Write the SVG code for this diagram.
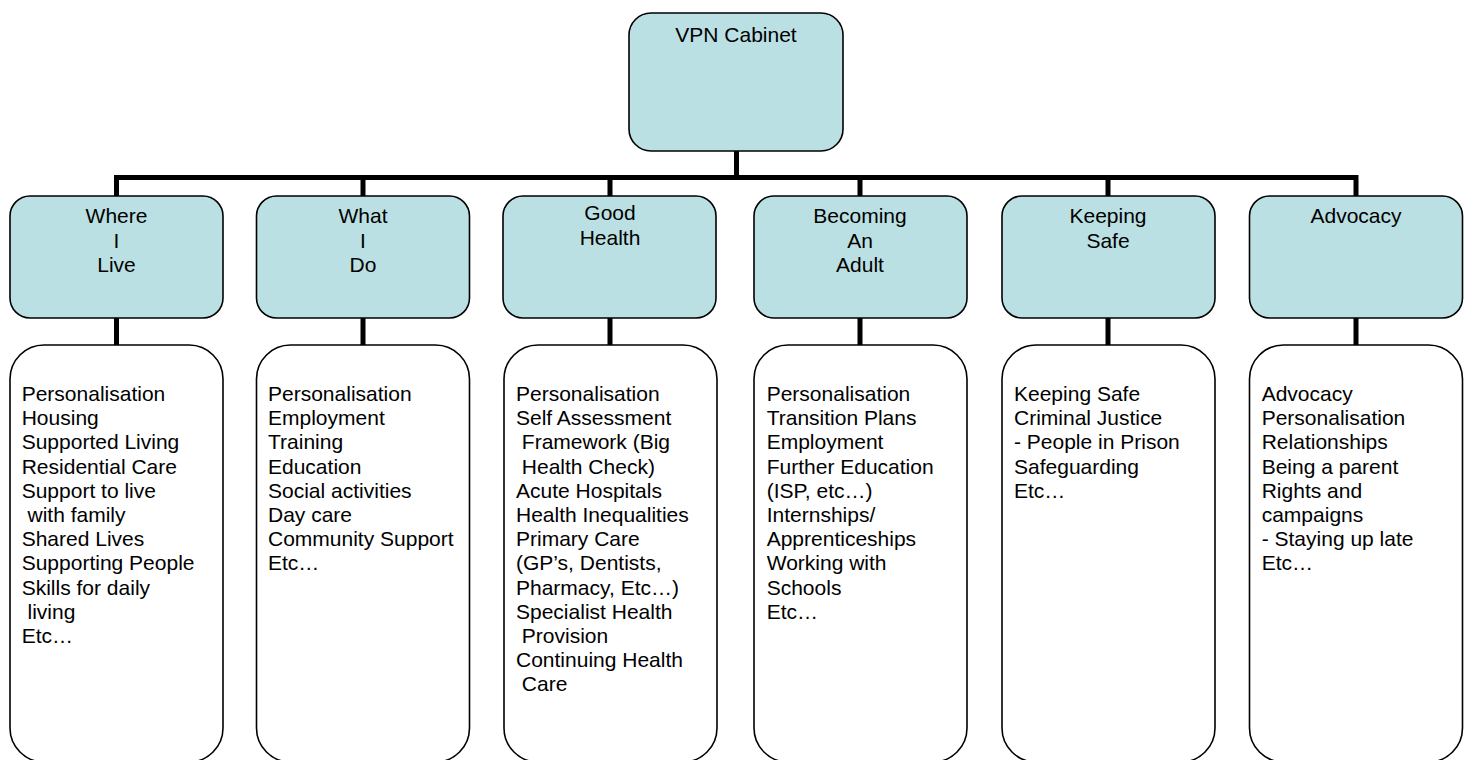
<svg xmlns="http://www.w3.org/2000/svg" width="1471" height="760" viewBox="0 0 1471 760">
<style>
.hd{fill:#BBE0E3;stroke:#000;stroke-width:1.6}
.lst{fill:#fff;stroke:#000;stroke-width:1.6}
text{font-family:"Liberation Sans",Arial,sans-serif;font-size:21px;fill:#000;white-space:pre}
.c{text-anchor:middle}
.conn{fill:none;stroke:#000;stroke-width:5;stroke-linecap:butt;stroke-linejoin:miter}
</style>
<rect width="1471" height="760" fill="#fff"/>
<g id="connectors">
<path class="conn" d="M736.5 151 V177.5 M116.5 196 V177.5 H1356 V196 M363 177.5 V196 M610 177.5 V196 M860 177.5 V196 M1108 177.5 V196"/>
<path class="conn" d="M116.5 318 V345 M363 318 V345 M610 318 V345 M860 318 V345 M1108 318 V345 M1356 318 V345"/>
</g>
<g id="vpn-cabinet">
<rect class="hd" x="629" y="13" width="214" height="138" rx="22"/>
<text class="c" x="736" y="41.7">VPN Cabinet</text>
</g>
<g id="where-i-live">
<rect class="hd" x="10" y="196" width="213" height="122" rx="20"/>
<text class="c" x="116.5" y="223">Where</text>
<text class="c" x="116.5" y="247.5">I</text>
<text class="c" x="116.5" y="272">Live</text>
</g>
<g id="what-i-do">
<rect class="hd" x="256.5" y="196" width="213" height="122" rx="20"/>
<text class="c" x="363" y="223">What</text>
<text class="c" x="363" y="247.5">I</text>
<text class="c" x="363" y="272">Do</text>
</g>
<g id="good-health">
<rect class="hd" x="503" y="196" width="213" height="122" rx="20"/>
<text class="c" x="610" y="220">Good</text>
<text class="c" x="610" y="244.5">Health</text>
</g>
<g id="becoming-an-adult">
<rect class="hd" x="754" y="196" width="213" height="122" rx="20"/>
<text class="c" x="860" y="223">Becoming</text>
<text class="c" x="860" y="247.5">An</text>
<text class="c" x="860" y="272">Adult</text>
</g>
<g id="keeping-safe">
<rect class="hd" x="1002" y="196" width="213" height="122" rx="20"/>
<text class="c" x="1108" y="223">Keeping</text>
<text class="c" x="1108" y="247.5">Safe</text>
</g>
<g id="advocacy">
<rect class="hd" x="1249.5" y="196" width="213" height="122" rx="20"/>
<text class="c" x="1356" y="223">Advocacy</text>
</g>
<g id="where-i-live-list">
<rect class="lst" x="10" y="345" width="213" height="417" rx="34"/>
<text x="21.7" y="401"><tspan x="21.7">Personalisation</tspan><tspan x="21.7" dy="24.2">Housing</tspan><tspan x="21.7" dy="24.2">Supported Living</tspan><tspan x="21.7" dy="24.2">Residential Care</tspan><tspan x="21.7" dy="24.2">Support to live</tspan><tspan x="21.7" dy="24.2"> with family</tspan><tspan x="21.7" dy="24.2">Shared Lives</tspan><tspan x="21.7" dy="24.2">Supporting People</tspan><tspan x="21.7" dy="24.2">Skills for daily</tspan><tspan x="21.7" dy="24.2"> living</tspan><tspan x="21.7" dy="24.2">Etc…</tspan></text>
</g>
<g id="what-i-do-list">
<rect class="lst" x="256.5" y="345" width="213" height="417" rx="34"/>
<text x="268" y="401"><tspan x="268">Personalisation</tspan><tspan x="268" dy="24.2">Employment</tspan><tspan x="268" dy="24.2">Training</tspan><tspan x="268" dy="24.2">Education</tspan><tspan x="268" dy="24.2">Social activities</tspan><tspan x="268" dy="24.2">Day care</tspan><tspan x="268" dy="24.2">Community Support</tspan><tspan x="268" dy="24.2">Etc…</tspan></text>
</g>
<g id="good-health-list">
<rect class="lst" x="504" y="345" width="213" height="417" rx="34"/>
<text x="516" y="401"><tspan x="516">Personalisation</tspan><tspan x="516" dy="24.2">Self Assessment</tspan><tspan x="516" dy="24.2"> Framework (Big</tspan><tspan x="516" dy="24.2"> Health Check)</tspan><tspan x="516" dy="24.2">Acute Hospitals</tspan><tspan x="516" dy="24.2">Health Inequalities</tspan><tspan x="516" dy="24.2">Primary Care</tspan><tspan x="516" dy="24.2">(GP’s, Dentists,</tspan><tspan x="516" dy="24.2">Pharmacy, Etc…)</tspan><tspan x="516" dy="24.2">Specialist Health</tspan><tspan x="516" dy="24.2"> Provision</tspan><tspan x="516" dy="24.2">Continuing Health</tspan><tspan x="516" dy="24.2"> Care</tspan></text>
</g>
<g id="becoming-an-adult-list">
<rect class="lst" x="754" y="345" width="213" height="417" rx="34"/>
<text x="766.7" y="401"><tspan x="766.7">Personalisation</tspan><tspan x="766.7" dy="24.2">Transition Plans</tspan><tspan x="766.7" dy="24.2">Employment</tspan><tspan x="766.7" dy="24.2">Further Education</tspan><tspan x="766.7" dy="24.2">(ISP, etc…)</tspan><tspan x="766.7" dy="24.2">Internships/</tspan><tspan x="766.7" dy="24.2">Apprenticeships</tspan><tspan x="766.7" dy="24.2">Working with</tspan><tspan x="766.7" dy="24.2">Schools</tspan><tspan x="766.7" dy="24.2">Etc…</tspan></text>
</g>
<g id="keeping-safe-list">
<rect class="lst" x="1002" y="345" width="213" height="417" rx="34"/>
<text x="1014" y="401"><tspan x="1014">Keeping Safe</tspan><tspan x="1014" dy="24.2">Criminal Justice</tspan><tspan x="1014" dy="24.2">- People in Prison</tspan><tspan x="1014" dy="24.2">Safeguarding</tspan><tspan x="1014" dy="24.2">Etc…</tspan></text>
</g>
<g id="advocacy-list">
<rect class="lst" x="1249.5" y="345" width="213" height="417" rx="34"/>
<text x="1261.7" y="401"><tspan x="1261.7">Advocacy</tspan><tspan x="1261.7" dy="24.2">Personalisation</tspan><tspan x="1261.7" dy="24.2">Relationships</tspan><tspan x="1261.7" dy="24.2">Being a parent</tspan><tspan x="1261.7" dy="24.2">Rights and</tspan><tspan x="1261.7" dy="24.2">campaigns</tspan><tspan x="1261.7" dy="24.2">- Staying up late</tspan><tspan x="1261.7" dy="24.2">Etc…</tspan></text>
</g>
</svg>
